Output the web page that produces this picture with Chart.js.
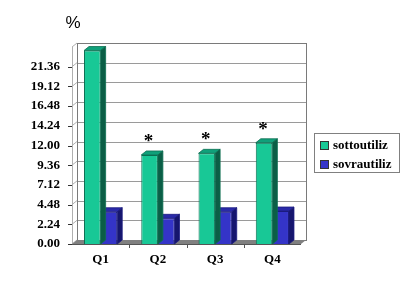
<!DOCTYPE html>
<html>
<head>
<meta charset="utf-8">
<script src="https://cdn.jsdelivr.net/npm/chart.js@4/dist/chart.umd.min.js"></script>
<style>
  html, body { margin: 0; padding: 0; background: #fff; }
  canvas { display: block; }
</style>
</head>
<body>
<canvas id="usageChart" width="419" height="295"></canvas>
<script>
// ===== Dati =====
const quarters = ['Q1', 'Q2', 'Q3', 'Q4'];
const sottoutiliz = [23.2, 10.73, 10.95, 12.31];
const sovrautiliz = [3.67, 2.92, 3.67, 3.75];
const significant = ['', '*', '*', '*'];
// etichette dell'asse (linee equidistanti, valori non lineari)
const tickLabels = ['0.00', '2.24', '4.48', '7.12', '9.36', '12.00', '14.24', '16.48', '19.12', '21.36'];
const gridValues = [0, 2.24, 4.48, 7.12, 9.36, 12.00, 14.24, 16.48, 19.12, 21.36, 23.60];

// percentuale -> posizione sulla griglia
function toGrid(v) {
  for (let i = 1; i < gridValues.length; i++) {
    if (v <= gridValues[i]) {
      return i - 1 + (v - gridValues[i - 1]) / (gridValues[i] - gridValues[i - 1]);
    }
  }
  return gridValues.length - 1;
}

const DX = 5, DY = 4;
const serif = '"Liberation Serif", "Times New Roman", serif';

const faces = [
  { top: '#10a07a', side: '#0b5e46', edge: '#0d6e52' },
  { top: '#2a2aa8', side: '#16166e', edge: '#1c1c80' }
];

// ===== Pareti, pavimento e griglia 3D =====
const wallsPlugin = {
  id: 'walls',
  beforeDatasetsDraw(chart) {
    const { ctx, chartArea: a, scales: { y } } = chart;
    ctx.save();
    // parete di fondo
    ctx.fillStyle = '#fff';
    ctx.fillRect(a.left + DX, a.top - DY, a.right - a.left, a.bottom - a.top);
    ctx.strokeStyle = '#9a9a9a';
    ctx.lineWidth = 1;
    for (let i = 1; i < gridValues.length - 1; i++) {
      const gy = Math.round(y.getPixelForValue(i) - DY) + 0.5;
      ctx.beginPath();
      ctx.moveTo(a.left + DX, gy);
      ctx.lineTo(a.right + DX, gy);
      ctx.stroke();
    }
    ctx.strokeStyle = '#7a7a7a';
    ctx.strokeRect(a.left + DX + 0.5, a.top - DY + 0.5, a.right - a.left, a.bottom - a.top);
    // parete sinistra
    ctx.strokeStyle = '#b0b0b0';
    for (let i = 0; i < gridValues.length; i++) {
      const gy = y.getPixelForValue(i);
      ctx.beginPath();
      ctx.moveTo(a.left, gy);
      ctx.lineTo(a.left + DX, gy - DY);
      ctx.stroke();
    }
    ctx.beginPath();
    ctx.moveTo(a.left + 0.5, a.top);
    ctx.lineTo(a.left + 0.5, a.bottom);
    ctx.stroke();
    // tacche dell'asse
    ctx.strokeStyle = '#333';
    for (let i = 0; i < tickLabels.length; i++) {
      const gy = Math.round(y.getPixelForValue(i)) + 0.5;
      ctx.beginPath();
      ctx.moveTo(a.left - 4, gy);
      ctx.lineTo(a.left, gy);
      ctx.stroke();
    }
    // pavimento
    ctx.fillStyle = '#808080';
    ctx.beginPath();
    ctx.moveTo(a.left, a.bottom);
    ctx.lineTo(a.left + DX, a.bottom - DY);
    ctx.lineTo(a.right + DX, a.bottom - DY);
    ctx.lineTo(a.right, a.bottom);
    ctx.closePath();
    ctx.fill();
    ctx.strokeStyle = '#555';
    ctx.beginPath();
    ctx.moveTo(a.left, a.bottom + 0.5);
    ctx.lineTo(a.right, a.bottom + 0.5);
    ctx.stroke();
    // tacche categorie
    const step = (a.right - a.left) / quarters.length;
    for (let i = 1; i < quarters.length; i++) {
      const gx = Math.round(a.left + step * i) + 0.5;
      ctx.beginPath();
      ctx.moveTo(gx, a.bottom);
      ctx.lineTo(gx, a.bottom + 4);
      ctx.stroke();
    }
    ctx.restore();
  },
  afterDatasetDraw(chart, args) {
    const { ctx } = chart;
    const f = faces[args.index];
    ctx.save();
    args.meta.data.forEach(bar => {
      const { x, y, base, width } = bar.getProps(['x', 'y', 'base', 'width'], true);
      const l = x - width / 2, r = x + width / 2;
      ctx.strokeStyle = f.edge;
      ctx.lineWidth = 0.8;
      ctx.fillStyle = f.top;
      ctx.beginPath();
      ctx.moveTo(l, y);
      ctx.lineTo(l + DX, y - DY);
      ctx.lineTo(r + DX, y - DY);
      ctx.lineTo(r, y);
      ctx.closePath();
      ctx.fill();
      ctx.stroke();
      ctx.fillStyle = f.side;
      ctx.beginPath();
      ctx.moveTo(r, y);
      ctx.lineTo(r + DX, y - DY);
      ctx.lineTo(r + DX, base - DY);
      ctx.lineTo(r, base);
      ctx.closePath();
      ctx.fill();
      ctx.stroke();
    });
    ctx.restore();
  },
  afterDraw(chart) {
    const { ctx } = chart;
    ctx.save();
    // simbolo %
    ctx.fillStyle = '#000';
    ctx.font = '17px "Liberation Sans", Arial, sans-serif';
    ctx.textAlign = 'center';
    ctx.textBaseline = 'middle';
    ctx.fillText('%', 73, 23);
    // asterischi
    ctx.font = 'bold 19px ' + serif;
    const meta = chart.getDatasetMeta(0);
    meta.data.forEach((bar, i) => {
      if (!significant[i]) return;
      ctx.fillText(significant[i], bar.x - 1, bar.y - DY - 9);
    });
    // legenda
    const lx = 314, ly = 133, lw = 85, lh = 39;
    ctx.strokeStyle = '#808080';
    ctx.lineWidth = 1;
    ctx.strokeRect(lx + 0.5, ly + 0.5, lw, lh);
    ctx.textAlign = 'left';
    ctx.font = 'bold 13px ' + serif;
    chart.data.datasets.forEach((ds, i) => {
      const ry = ly + 8 + i * 19;
      ctx.fillStyle = ds.backgroundColor;
      ctx.fillRect(lx + 6, ry, 9, 9);
      ctx.strokeStyle = '#333';
      ctx.strokeRect(lx + 6.5, ry + 0.5, 8, 8);
      ctx.fillStyle = '#000';
      ctx.fillText(ds.label, lx + 19, ry + 5);
    });
    ctx.restore();
  }
};

const usageChart = document.getElementById('usageChart');

new Chart(usageChart, {
  type: 'bar',

  data: {
    labels: quarters,

    datasets: [{
      label: 'sottoutiliz',
      data: sottoutiliz.map(toGrid),
      backgroundColor: '#18c896',
      borderColor: '#0d6e52',
      borderWidth: 1
    }, {
      label: 'sovrautiliz',
      data: sovrautiliz.map(toGrid),
      backgroundColor: '#3434c8',
      borderColor: '#1c1c80',
      borderWidth: 1
    }]
  },

  options: {
    responsive: false,
    animation: false,
    categoryPercentage: 0.58,
    barPercentage: 1.0,

    layout: {
      padding: { top: 47, right: 118, bottom: 0, left: 0 }
    },

    scales: {
      x: {
        grid: { display: false, drawTicks: false, tickLength: 0 },
        border: { display: false },
        ticks: {
          color: '#000',
          padding: 8,
          font: { family: serif, size: 13, weight: 'bold' }
        },
        afterFit(scale) { scale.height = 51; }
      },
      y: {
        min: 0,
        max: gridValues.length - 1,
        grid: { display: false },
        border: { display: false },
        ticks: {
          stepSize: 1,
          color: '#000',
          padding: 4,
          font: { family: serif, size: 13, weight: 'bold' },
          callback: v => tickLabels[v] ?? ''
        },
        afterFit(scale) { scale.width = 72; }
      }
    },

    plugins: {
      legend: { display: false },
      tooltip: { enabled: false }
    }
  },

  plugins: [wallsPlugin]
});
</script>
</body>
</html>
